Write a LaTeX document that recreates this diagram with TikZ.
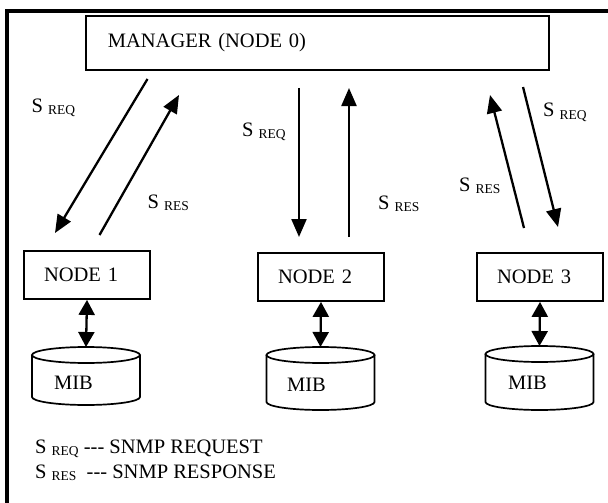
\documentclass[tikz,border=0pt]{standalone}
\usepackage{fontspec}
\setmainfont{Liberation Serif}
\usetikzlibrary{arrows.meta}

\newcommand{\sig}[1]{S \raisebox{-2pt}{\fontsize{13.5}{14}\selectfont #1}}

\begin{document}
\begin{tikzpicture}[x=1pt, y=-1pt, font=\fontsize{20.5}{24}\selectfont]

% Define styles
\tikzstyle{box}=[draw, line width=1.8pt, text width=86pt, inner xsep=20pt, inner ysep=0pt, minimum height=48pt, align=left]
\tikzstyle{msg}=[line width=2.3pt, -{Triangle[length=18pt, width=15pt]}]
\tikzstyle{link}=[line width=2.3pt, {Triangle[length=15pt, width=16pt]}-{Triangle[length=15pt, width=16pt]}]
\tikzstyle{db}=[line width=1.7pt]
\tikzstyle{tag}=[inner sep=0pt, anchor=base west]

\useasboundingbox (0,0) rectangle (608,503);

% Outer frame (top and left only)
\draw[line width=4pt] (7,503) -- (7,11) -- (608,11);

% Manager
\node[draw, line width=1.8pt, anchor=north west, minimum height=54pt, text width=419pt,
  inner xsep=22pt, inner ysep=0pt, align=left] (mgr) at (85,15) {MANAGER (NODE 0)};

% Agent nodes
\node[box] (n1) at (87,275) {NODE 1};
\node[box] (n2) at (321,277) {NODE 2};
\node[box] (n3) at (540,277) {NODE 3};

% MIBs
\foreach \i/\cx/\ty/\by in {1/86/355/397, 2/320.5/355/402, 3/539.5/354/402} {
  \draw[db] (\cx-54,\ty) -- (\cx-54,\by) arc[start angle=180, end angle=360, x radius=54pt, y radius=8pt] -- (\cx+54,\ty);
  \draw[db] (\cx,\ty) ellipse[x radius=54pt, y radius=8pt];
  \coordinate (mib\i) at (\cx,\ty-8);
}
\node (t1) at (73.5,383) {MIB};
\node (t2) at (306.5,385) {MIB};
\node (t3) at (527.5,383) {MIB};

% Message end points
\foreach \nm/\x/\y in {a1/147.5/79, b1/55/233, c1/99.5/235, d1/179/95,
                      a2/299/88, b2/299/237, c2/349/237, d2/349/88,
                      a3/523/87, b3/558/227, c3/524/228, d3/490/95}
  \coordinate (\nm) at (\x,\y);

% Messages
\foreach \i in {1,2,3} {
  \draw[msg] (a\i) -- (b\i);
  \draw[msg] (c\i) -- (d\i);
  \draw[link] (n\i.south) -- (mib\i);
}

% Labels
\node[tag] (q1) at (31.5,112) {\sig{REQ}};
\node[tag] (r1) at (147.5,208) {\sig{RES}};
\node[tag] (q2) at (242,136) {\sig{REQ}};
\node[tag] (r2) at (378,209) {\sig{RES}};
\node[tag] (r3) at (459,191) {\sig{RES}};
\node[tag] (q3) at (543,117) {\sig{REQ}};

% Legend
\node[tag] (k1) at (35,453) {\sig{REQ} -{}-{}- SNMP REQUEST};
\node[tag] (k2) at (35,478) {\sig{RES}\ \ -{}-{}- SNMP RESPONSE};

\end{tikzpicture}
\end{document}
